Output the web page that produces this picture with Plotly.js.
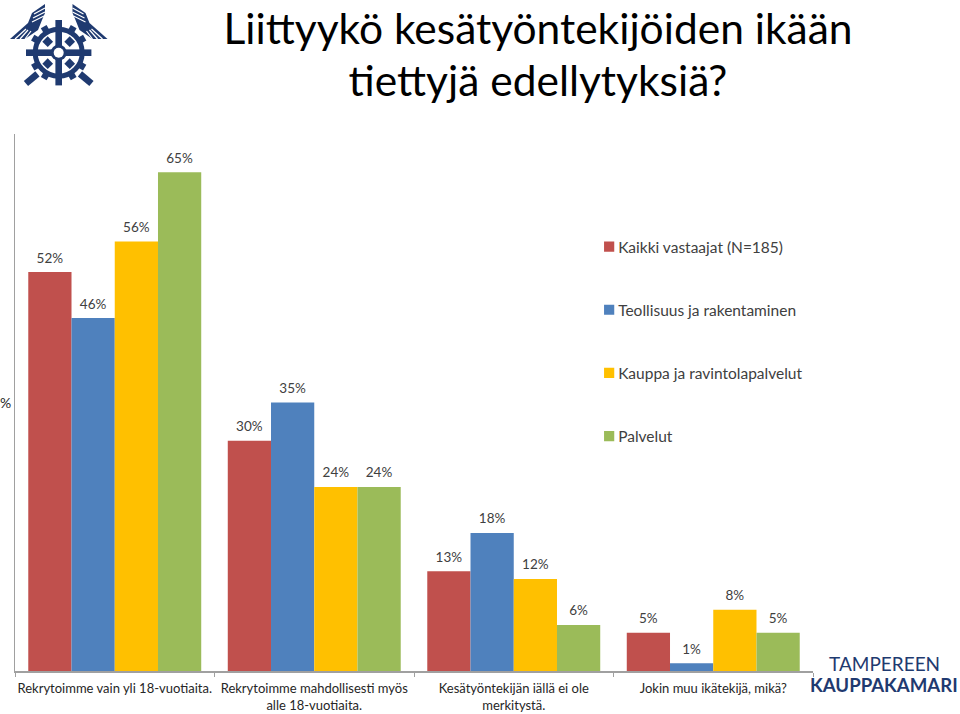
<!DOCTYPE html>
<html>
<head>
<meta charset="utf-8">
<script src="https://cdn.plot.ly/plotly-3.0.1.min.js"></script>
<style>
html,body{margin:0;padding:0;background:#fff;overflow:hidden}
#wrap{position:relative;width:960px;height:714px;overflow:hidden}
#chart{position:absolute;left:0;top:0;width:960px;height:714px}
#logo{position:absolute;left:0;top:0}
</style>
</head>
<body>
<div id="wrap">
<div id="chart"></div>
<svg id="logo" width="120" height="95" viewBox="0 0 120 95">
  <g transform="translate(58.7,52.7)" fill="#1f3a70">
    <g>
      <rect x="-3.3" y="-30" width="6.6" height="8" transform="rotate(30)"/>
      <rect x="-3.3" y="-30" width="6.6" height="8" transform="rotate(60)"/>
      <rect x="-3.3" y="-30" width="6.6" height="8" transform="rotate(120)"/>
      <rect x="-3.3" y="-30" width="6.6" height="8" transform="rotate(150)"/>
      <rect x="-3.3" y="-30" width="6.6" height="8" transform="rotate(210)"/>
      <rect x="-3.3" y="-30" width="6.6" height="8" transform="rotate(240)"/>
      <rect x="-3.3" y="-30" width="6.6" height="8" transform="rotate(300)"/>
      <rect x="-3.3" y="-30" width="6.6" height="8" transform="rotate(330)"/>
    </g>
    <circle r="23.5" fill="none" stroke="#1f3a70" stroke-width="5"/>
    <rect x="-3.3" y="-32.7" width="6.6" height="65.4"/>
    <rect x="-32.7" y="-3.3" width="65.4" height="6.6"/>
    <rect x="-3.8" y="-3.8" width="7.6" height="7.6" transform="translate(-11,-11) rotate(45)"/>
    <rect x="-3.8" y="-3.8" width="7.6" height="7.6" transform="translate(11,-11) rotate(45)"/>
    <rect x="-3.8" y="-3.8" width="7.6" height="7.6" transform="translate(-11,11) rotate(45)"/>
    <rect x="-3.8" y="-3.8" width="7.6" height="7.6" transform="translate(11,11) rotate(45)"/>
    <circle r="8" fill="#1f3a70"/>
    <circle r="5" fill="#fff"/>
    <rect x="-7.5" y="-3.3" width="15" height="6.6" transform="translate(-27,26) rotate(-40)"/>
    <rect x="-7.5" y="-3.3" width="15" height="6.6" transform="translate(27,26) rotate(40)"/>
  </g>
  <g fill="#1f3a70">
    <path d="M45,4 L32,13 L28,23 L10,39 L25,39 L38,30 L42,20 L45,13Z"/>
    <path d="M72.5,4 L85.500,13 L89.500,23 L107.500,39 L92.500,39 L79.500,30 L75.500,20 L72.500,13Z"/>
  </g>
  <g stroke="#fff" stroke-width="1.2" fill="none">
    <path d="M45,8 L34,14 M45,12 L33,18 M44,16 L32,22"/>
    <path d="M72.500,8 L83.500,14 M72.500,12 L84.500,18 M73.500,16 L85.500,22"/>
    <path d="M26,29 L15,39 M28,30 L20,39 M31,31 L25,39"/>
    <path d="M91.500,29 L102.500,39 M89.500,30 L97.500,39 M86.500,31 L92.500,39"/>
  </g>
</svg>
</div>
<script>
var categories = [
  "Rekrytoimme vain yli 18-vuotiaita.",
  "Rekrytoimme mahdollisesti myös<br>alle 18-vuotiaita.",
  "Kesätyöntekijän iällä ei ole<br>merkitystä.",
  "Jokin muu ikätekijä, mikä?"
];
var kaikki = [52, 30, 13, 5];
var teollisuus = [46, 35, 18, 1];
var kauppa = [56, 24, 12, 8];
var palvelut = [65, 24, 6, 5];
var seriesNames = [
  "Kaikki vastaajat (N=185)",
  "Teollisuus ja rakentaminen",
  "Kauppa ja ravintolapalvelut",
  "Palvelut"
];
var seriesColors = ["#C0504D", "#4F81BD", "#FFC000", "#9BBB59"];
var seriesValues = [kaikki, teollisuus, kauppa, palvelut];
var titleText = "Liittyykö kesätyöntekijöiden ikään<br>tiettyjä edellytyksiä?";

var W = 960, H = 714, L = 14.5, R = 813, T = 134, B = 671;
function px(x){ return (x - L) / (R - L); }
function py(y){ return (B - y) / (B - T); }

var FONT = "Lato, 'Open Sans', sans-serif";
var traces = seriesValues.map(function (vals, i) {
  return {
    type: "bar",
    name: seriesNames[i],
    legendgroup: "g" + i,
    x: categories,
    y: vals,
    text: vals.map(function (v) { return v + "%"; }),
    textposition: "outside",
    cliponaxis: false,
    textfont: { family: FONT, size: 13.5, color: "#404040" },
    marker: { color: seriesColors[i] }
  };
});

var layout = {
  width: W, height: H,
  paper_bgcolor: "#fff", plot_bgcolor: "#fff",
  margin: { l: L, r: W - R, t: T, b: H - B, pad: 0 },
  barmode: "group", bargap: 0.133, bargroupgap: 0,
  title: {
    text: titleText,
    font: { family: FONT, size: 42.5, color: "#000" },
    x: 538 / W, xanchor: "center", xref: "container",
    y: 1 - 44 / H, yanchor: "top", yref: "container"
  },
  xaxis: {
    type: "category", showline: true, linecolor: "#a0a0a0", linewidth: 1.5,
    ticks: "outside", tickson: "boundaries", ticklen: 4, tickcolor: "#a0a0a0", tickangle: 0,
    ticklabelstandoff: 5,
    tickfont: { family: FONT, size: 13, color: "#262626" }, showgrid: false, zeroline: false
  },
  yaxis: {
    range: [0, 70], showline: true, linecolor: "#a0a0a0", linewidth: 1.5,
    showticklabels: false, ticks: "", showgrid: false, zeroline: false
  },
  legend: {
    x: px(578), y: py(230), xanchor: "left", yanchor: "top",
    traceorder: "grouped", tracegroupgap: 40,
    font: { family: FONT, size: 15.5, color: "#404040" },
    bgcolor: "rgba(0,0,0,0)", itemclick: false
  },
  showlegend: true,
  annotations: [
    { text: "%", xref: "paper", yref: "paper", x: px(5), y: py(402), showarrow: false, xanchor: "center",
      font: { family: FONT, size: 14, color: "#262626" } },
    { text: "TAMPEREEN", xref: "paper", yref: "paper", x: px(885), y: py(677), showarrow: false, xanchor: "center",
      font: { family: FONT, size: 19, color: "#1f3a70" } },
    { text: "<b>KAUPPAKAMARI</b>", xref: "paper", yref: "paper", x: px(884.5), y: py(698), showarrow: false, xanchor: "center",
      font: { family: FONT, size: 18.6, color: "#1f3a70" } }
  ]
};
Plotly.newPlot("chart", traces, layout, { displayModeBar: false, staticPlot: true }).then(function (gd) {
  // Excel-style legend: smaller swatches, closer to their labels
  gd.querySelectorAll(".legend .legendpoints").forEach(function (g) {
    g.setAttribute("transform", "translate(14,0) scale(0.85)");
  });
  // Data labels sit a little higher above the bars in the original
  gd.querySelectorAll(".bars .bartext").forEach(function (t) {
    t.setAttribute("transform", "translate(0,-3.5) " + (t.getAttribute("transform") || ""));
  });
  // Tighter title line spacing
  var lines = gd.querySelectorAll(".gtitle tspan.line");
  if (lines[1]) lines[1].setAttribute("dy", "1.22em");
});
</script>
</body>
</html>
